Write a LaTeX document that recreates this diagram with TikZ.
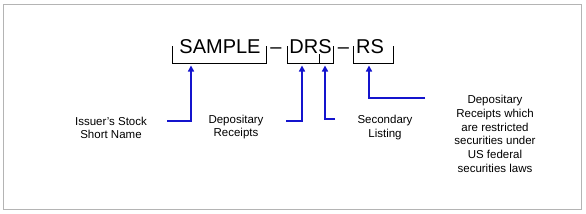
\documentclass[tikz,border=0pt]{standalone}
\usepackage{fontspec}
\setmainfont{Liberation Sans}
\usetikzlibrary{arrows.meta}
\definecolor{arrowblue}{RGB}{20,20,205}
\definecolor{framegray}{RGB}{180,180,180}

\begin{document}
\begin{tikzpicture}[x=1pt,y=-1pt,
  big/.style={font=\fontsize{20}{24}\selectfont,inner sep=0,anchor=base},
  lbl/.style={font=\fontsize{11.5}{13.8}\selectfont,align=center,inner sep=0,anchor=north},
  brk/.style={black,line width=0.8pt},
  arr/.style={arrowblue,line width=2pt,-{Triangle[length=6pt,width=6pt]}}]
  \useasboundingbox (0,0) rectangle (586,214);
  \draw[framegray] (3.5,4.5) rectangle (581.5,209.5);
  \node[big] (sample) at (220,53) {SAMPLE};
  \node[big] (dasha) at (276,53) {–};
  \node[big] (drs) at (310.5,53) {DRS};
  \node[big] (dashb) at (343.5,53) {–};
  \node[big] (rs) at (370,53) {RS};
  \foreach \l/\r in {172/266,287/333,353/393}
    \draw[brk] (\l,46) -- (\l,63.5) -- (\r,63.5) -- (\r,46);
  \draw[brk] (319,54) -- (319,63.5);
  \node[lbl] (issuer) at (111,116.5) {Issuer’s Stock\\Short Name};
  \node[lbl] (depo) at (236,114.5) {Depositary\\Receipts};
  \node[lbl] (second) at (385,115) {Secondary\\Listing};
  \node[lbl] (restr) at (495,95) {Depositary\\Receipts which\\are restricted\\securities under\\US federal\\securities laws};
  \coordinate (sa) at (167,120.7);
  \coordinate (sb) at (286,120.7);
  \coordinate (sc) at (335,119.3);
  \coordinate (sd) at (425,98.3);
  \coordinate (ta) at (191,65.5);
  \coordinate (tb) at (302,65.5);
  \coordinate (tc) at (325,65.5);
  \coordinate (td) at (369,65.5);
  \draw[arr] (sa) -| (ta);
  \draw[arr] (sb) -| (tb);
  \draw[arr] (sc) -| (tc);
  \draw[arr] (sd) -| (td);
\end{tikzpicture}
\end{document}
